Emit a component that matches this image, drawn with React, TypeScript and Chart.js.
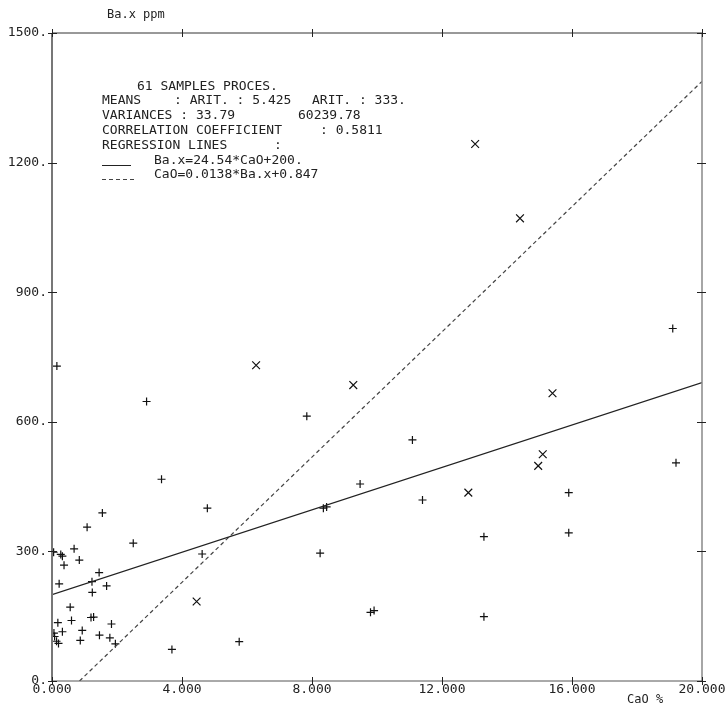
import React, { useEffect, useRef } from "react";
import { Chart, registerables } from "chart.js";
Chart.register(...registerables);

// CaO % (x) and Ba.x ppm (y) — "+" samples
const plusCaO = [1.55, 4.78, 1.08, 2.5, 4.62, 0.05, 0.27, 0.32, 0.68, 0.84, 0.37, 1.45, 1.23, 0.22, 1.68, 1.24, 0.56, 0.6, 1.2, 1.28, 0.18, 1.83, 0.32, 0.93, 0.08, 0.06, 0.14, 0.2, 1.46, 0.87, 1.78, 1.95, 3.69, 5.76, 0.15, 2.91, 3.37, 7.84, 11.09, 9.48, 11.4, 8.35, 8.45, 13.29, 8.25, 9.8, 9.91, 13.29, 19.1, 19.2, 15.9, 15.9];
const plusBa = [389, 400, 356, 319, 294, 298, 293, 289, 306, 280, 268, 251, 230, 225, 220, 205, 171, 140, 147, 148, 135, 132, 114, 117, 103, 111, 92, 87, 106, 94, 100, 86, 73, 91, 729, 647, 467, 613, 558, 456, 419, 400, 403, 334, 296, 159, 163, 149, 816, 505, 436, 343];

// "x" samples
const crossCaO = [4.45, 6.28, 9.27, 12.81, 13.02, 14.4, 15.4, 15.1, 14.96];
const crossBa = [184, 731, 685, 436, 1243, 1071, 666, 525, 498];

// regression lines
const reg1CaO = [0, 20];
const reg1Ba = [200, 690.8]; // Ba.x = 24.54*CaO + 200
const reg2CaO = [0.847, 20];
const reg2Ba = [0, 1388]; // CaO = 0.0138*Ba.x + 0.847

const xTicks = [0, 4, 8, 12, 16, 20];
const xTickLabels = ["0.000", "4.000", "8.000", "12.000", "16.000", "20.000"];
const yTicks = [0, 300, 600, 900, 1200, 1500];
const yTickLabels = ["0.", "300.", "600.", "900.", "1200.", "1500."];

const yTitle = "Ba.x ppm";
const xTitle = "CaO %";

const statLines = [
  "61 SAMPLES PROCES.",
  "MEANS",
  ": ARIT. : 5.425",
  "ARIT. : 333.",
  "VARIANCES : 33.79",
  "60239.78",
  "CORRELATION COEFFICIENT",
  ": 0.5811",
  "REGRESSION LINES",
  ":",
  "Ba.x=24.54*CaO+200.",
  "CaO=0.0138*Ba.x+0.847",
];

const pts = (xs: number[], ys: number[]) => xs.map((x, i) => ({ x, y: ys[i] }));

const FONT = '"DejaVu Sans Mono", monospace';

const framePlugin = {
  id: "frame",
  afterDraw(chart: any) {
    const { ctx, chartArea: a, scales } = chart;
    const xs = scales.x;
    const ys = scales.y;
    ctx.save();
    // frame
    const line = (x1: number, y1: number, x2: number, y2: number, w: number, c: string) => {
      ctx.beginPath();
      ctx.lineWidth = w;
      ctx.strokeStyle = c;
      ctx.moveTo(x1, y1);
      ctx.lineTo(x2, y2);
      ctx.stroke();
    };
    line(a.left, a.top, a.left, a.bottom, 2, "#777");
    line(a.left, a.top, a.right, a.top, 1, "#333");
    line(a.right, a.top, a.right, a.bottom, 1.5, "#888");
    line(a.left, a.bottom, a.right, a.bottom, 1, "#555");
    // ticks
    xTicks.forEach((v) => {
      const px = Math.round(xs.getPixelForValue(v)) + 0.5;
      line(px, a.bottom - 4, px, a.bottom + 4, 1, "#222");
      line(px, a.top - 4, px, a.top + 4, 1, "#222");
    });
    yTicks.forEach((v) => {
      const py = Math.round(ys.getPixelForValue(v)) + 0.5;
      line(a.left - 4, py, a.left + 5, py, 1, "#222");
      line(a.right - 5, py, a.right + 4, py, 1, "#222");
    });
    // tick labels
    ctx.fillStyle = "#222";
    ctx.font = `13px ${FONT}`;
    ctx.textAlign = "right";
    ctx.textBaseline = "middle";
    yTicks.forEach((v, i) => {
      ctx.fillText(yTickLabels[i], a.left - 5, ys.getPixelForValue(v));
    });
    ctx.textAlign = "center";
    xTicks.forEach((v, i) => {
      ctx.fillText(xTickLabels[i], xs.getPixelForValue(v), a.bottom + 9);
    });
    // axis titles
    ctx.font = `12px ${FONT}`;
    ctx.textAlign = "left";
    ctx.fillText(yTitle, 107, 15);
    ctx.fillText(xTitle, 627, 700);
    // statistics block
    ctx.font = `13px ${FONT}`;
    ctx.fillText(statLines[0], 137, 87);
    ctx.fillText(statLines[1], 102, 101);
    ctx.fillText(statLines[2], 174, 101);
    ctx.fillText(statLines[3], 312, 101);
    ctx.fillText(statLines[4], 102, 116);
    ctx.fillText(statLines[5], 298, 116);
    ctx.fillText(statLines[6], 102, 131);
    ctx.fillText(statLines[7], 320, 131);
    ctx.fillText(statLines[8], 102, 146);
    ctx.fillText(statLines[9], 274, 146);
    ctx.fillText(statLines[10], 154, 161);
    ctx.fillText(statLines[11], 154, 175);
    // legend samples
    line(102, 165.5, 131, 165.5, 1, "#222");
    ctx.setLineDash([4, 3]);
    line(102, 179.5, 134, 179.5, 1, "#444");
    ctx.setLineDash([]);
    ctx.restore();
  },
};

export default function App() {
  const ref = useRef<HTMLCanvasElement>(null);
  useEffect(() => {
    if (!ref.current) return;
    const chart = new Chart(ref.current, {
      type: "scatter",
      data: {
        datasets: [
          {
            label: "reg1",
            data: pts(reg1CaO, reg1Ba),
            showLine: true,
            borderColor: "#222",
            borderWidth: 1.2,
            pointRadius: 0,
          },
          {
            label: "reg2",
            data: pts(reg2CaO, reg2Ba),
            showLine: true,
            borderColor: "#444",
            borderWidth: 1.2,
            borderDash: [4, 3],
            pointRadius: 0,
          },
          {
            label: "plus",
            data: pts(plusCaO, plusBa),
            pointStyle: "cross",
            pointRadius: 4,
            borderColor: "#111",
            borderWidth: 1.2,
            backgroundColor: "#111",
          },
          {
            label: "cross",
            data: pts(crossCaO, crossBa),
            pointStyle: "crossRot",
            pointRadius: 5.5,
            borderColor: "#111",
            borderWidth: 1.2,
            backgroundColor: "#111",
          },
        ],
      },
      options: {
        animation: false,
        responsive: false,
        devicePixelRatio: 1,
        layout: { padding: { left: 52, right: 26, top: 33, bottom: 30 } },
        plugins: { legend: { display: false }, tooltip: { enabled: false } },
        scales: {
          x: { type: "linear", min: 0, max: 20, display: false },
          y: { type: "linear", min: 0, max: 1500, display: false },
        },
      },
      plugins: [framePlugin],
    } as any);
    return () => chart.destroy();
  }, []);
  return (
    <div style={{ position: "absolute", left: 0, top: 0, width: 728, height: 711, background: "#fff" }}>
      <canvas ref={ref} width={728} height={711} />
    </div>
  );
}
